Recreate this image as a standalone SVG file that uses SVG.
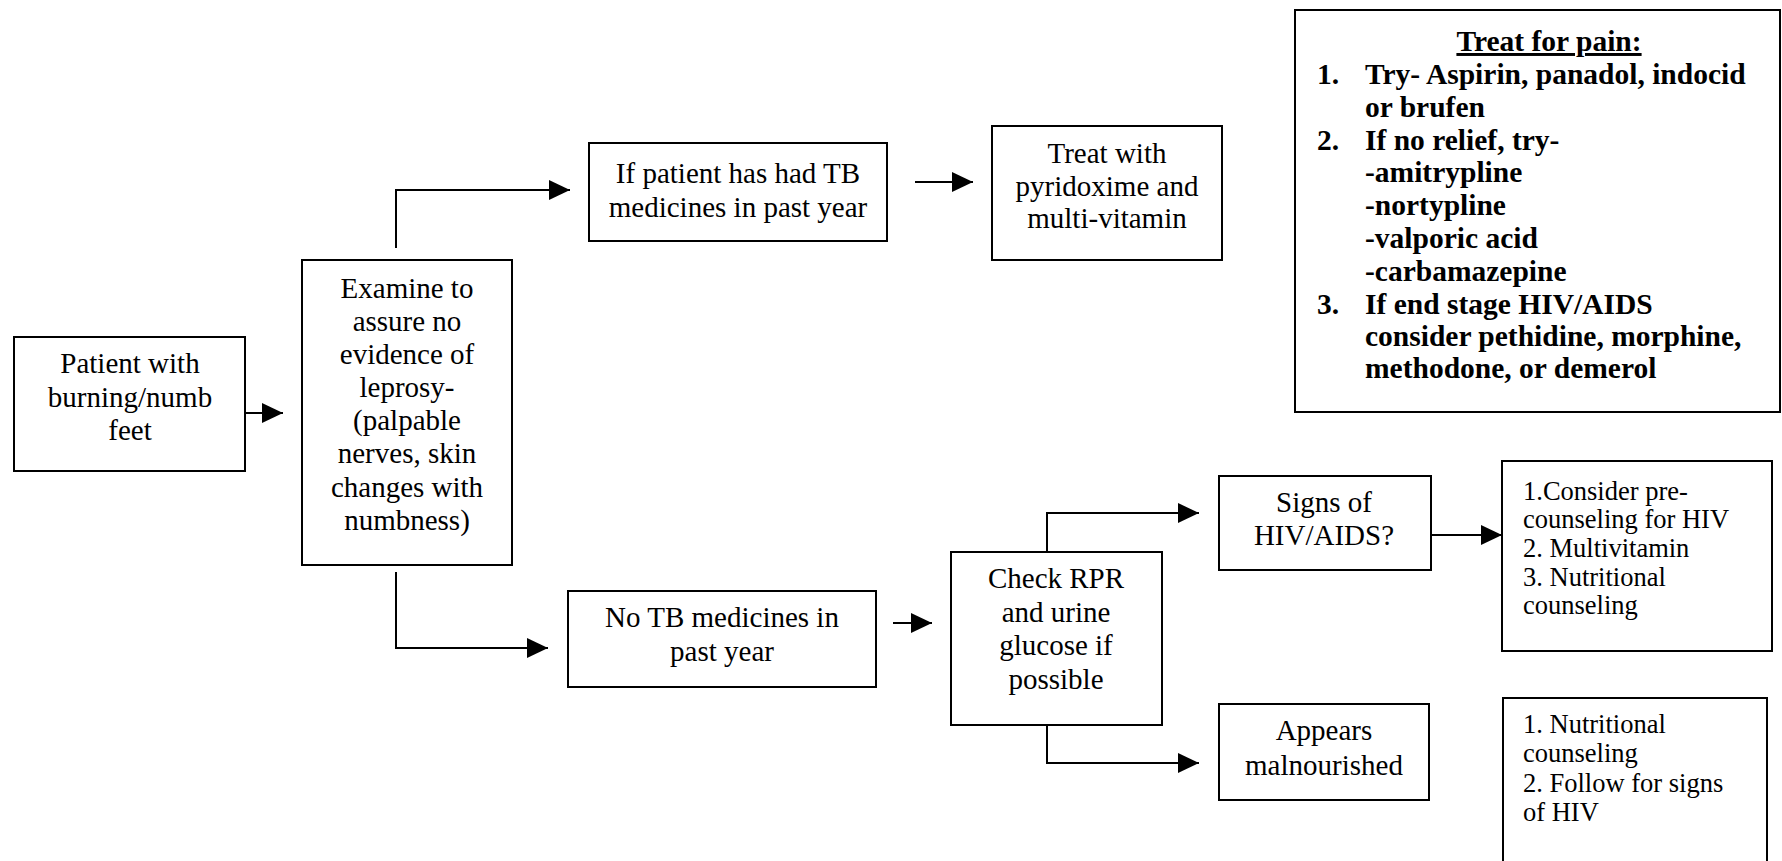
<svg xmlns="http://www.w3.org/2000/svg" width="1782" height="861" viewBox="0 0 1782 861">
  <defs>
    <style>
      .box { fill: #fff; stroke: #000; stroke-width: 2; }
      .t { font-family: "Liberation Serif", "Times New Roman", serif; font-size: 29px; fill: #000; }
      .c { text-anchor: middle; }
      .s { font-size: 26.5px; }
      .b { font-weight: bold; font-size: 29.5px; }
      .wire { fill: none; stroke: #000; stroke-width: 2; }
    </style>
    <marker id="arrow" viewBox="0 0 21 20" markerWidth="21" markerHeight="20" refX="21" refY="10" orient="auto" markerUnits="userSpaceOnUse">
      <path d="M0,0 L21,10 L0,20 z" fill="#000"/>
    </marker>
  </defs>
  <rect width="1782" height="861" fill="#fff"/>

  <!-- connectors -->
  <g id="connectors">
    <path class="wire" d="M245,413 H283" marker-end="url(#arrow)"/>
    <path class="wire" d="M396,248 V190 H570" marker-end="url(#arrow)"/>
    <path class="wire" d="M396,572 V648 H548" marker-end="url(#arrow)"/>
    <path class="wire" d="M915,182 H973" marker-end="url(#arrow)"/>
    <path class="wire" d="M893,623 H932" marker-end="url(#arrow)"/>
    <path class="wire" d="M1047,552 V513 H1199" marker-end="url(#arrow)"/>
    <path class="wire" d="M1047,725 V763 H1199" marker-end="url(#arrow)"/>
    <path class="wire" d="M1431,535 H1502" marker-end="url(#arrow)"/>
  </g>

  <!-- start -->
  <g id="patient">
    <rect class="box" x="14" y="337" width="231" height="134"/>
    <text class="t c" x="130" y="373">Patient with</text>
    <text class="t c" x="130" y="407">burning/numb</text>
    <text class="t c" x="130" y="440">feet</text>
  </g>

  <g id="examine">
    <rect class="box" x="302" y="260" width="210" height="305"/>
    <text class="t c" x="407" y="298">Examine to</text>
    <text class="t c" x="407" y="331">assure no</text>
    <text class="t c" x="407" y="364">evidence of</text>
    <text class="t c" x="407" y="397">leprosy-</text>
    <text class="t c" x="407" y="430">(palpable</text>
    <text class="t c" x="407" y="463">nerves, skin</text>
    <text class="t c" x="407" y="497">changes with</text>
    <text class="t c" x="407" y="530">numbness)</text>
  </g>

  <!-- TB branch -->
  <g id="tb-yes">
    <rect class="box" x="589" y="143" width="298" height="98"/>
    <text class="t c" x="738" y="183">If patient has had TB</text>
    <text class="t c" x="738" y="217">medicines in past year</text>
  </g>

  <g id="treat-vitamin">
    <rect class="box" x="992" y="126" width="230" height="134"/>
    <text class="t c" x="1107" y="163">Treat with</text>
    <text class="t c" x="1107" y="196">pyridoxime and</text>
    <text class="t c" x="1107" y="228">multi-vitamin</text>
  </g>

  <!-- pain treatment list -->
  <g id="treat-pain">
    <rect class="box" x="1295" y="10" width="485" height="402"/>
    <text class="t b c" x="1549" y="51" text-decoration="underline">Treat for pain:</text>
    <text class="t b" x="1317" y="84">1.</text>
    <text class="t b" x="1365" y="84">Try- Aspirin, panadol, indocid</text>
    <text class="t b" x="1365" y="117">or brufen</text>
    <text class="t b" x="1317" y="150">2.</text>
    <text class="t b" x="1365" y="150">If no relief, try-</text>
    <text class="t b" x="1365" y="182">-amitrypline</text>
    <text class="t b" x="1365" y="215">-nortypline</text>
    <text class="t b" x="1365" y="248">-valporic acid</text>
    <text class="t b" x="1365" y="281">-carbamazepine</text>
    <text class="t b" x="1317" y="314">3.</text>
    <text class="t b" x="1365" y="314">If end stage HIV/AIDS</text>
    <text class="t b" x="1365" y="346">consider pethidine, morphine,</text>
    <text class="t b" x="1365" y="378">methodone, or demerol</text>
  </g>

  <!-- no TB branch -->
  <g id="tb-no">
    <rect class="box" x="568" y="591" width="308" height="96"/>
    <text class="t c" x="722" y="627">No TB medicines in</text>
    <text class="t c" x="722" y="661">past year</text>
  </g>

  <g id="check-rpr">
    <rect class="box" x="951" y="552" width="211" height="173"/>
    <text class="t c" x="1056" y="588">Check RPR</text>
    <text class="t c" x="1056" y="622">and urine</text>
    <text class="t c" x="1056" y="655">glucose if</text>
    <text class="t c" x="1056" y="689">possible</text>
  </g>

  <g id="signs-hiv">
    <rect class="box" x="1219" y="476" width="212" height="94"/>
    <text class="t c" x="1324" y="512">Signs of</text>
    <text class="t c" x="1324" y="545">HIV/AIDS?</text>
  </g>

  <g id="hiv-actions">
    <rect class="box" x="1502" y="461" width="270" height="190"/>
    <text class="t s" x="1523" y="500">1.Consider pre-</text>
    <text class="t s" x="1523" y="528">counseling for HIV</text>
    <text class="t s" x="1523" y="557">2. Multivitamin</text>
    <text class="t s" x="1523" y="586">3. Nutritional</text>
    <text class="t s" x="1523" y="614">counseling</text>
  </g>

  <g id="malnourished">
    <rect class="box" x="1219" y="704" width="210" height="96"/>
    <text class="t c" x="1324" y="740">Appears</text>
    <text class="t c" x="1324" y="775">malnourished</text>
  </g>

  <g id="nutrition-actions">
    <rect class="box" x="1503" y="698" width="264" height="180"/>
    <text class="t s" x="1523" y="733">1. Nutritional</text>
    <text class="t s" x="1523" y="762">counseling</text>
    <text class="t s" x="1523" y="792">2. Follow for signs</text>
    <text class="t s" x="1523" y="821">of HIV</text>
  </g>
</svg>
